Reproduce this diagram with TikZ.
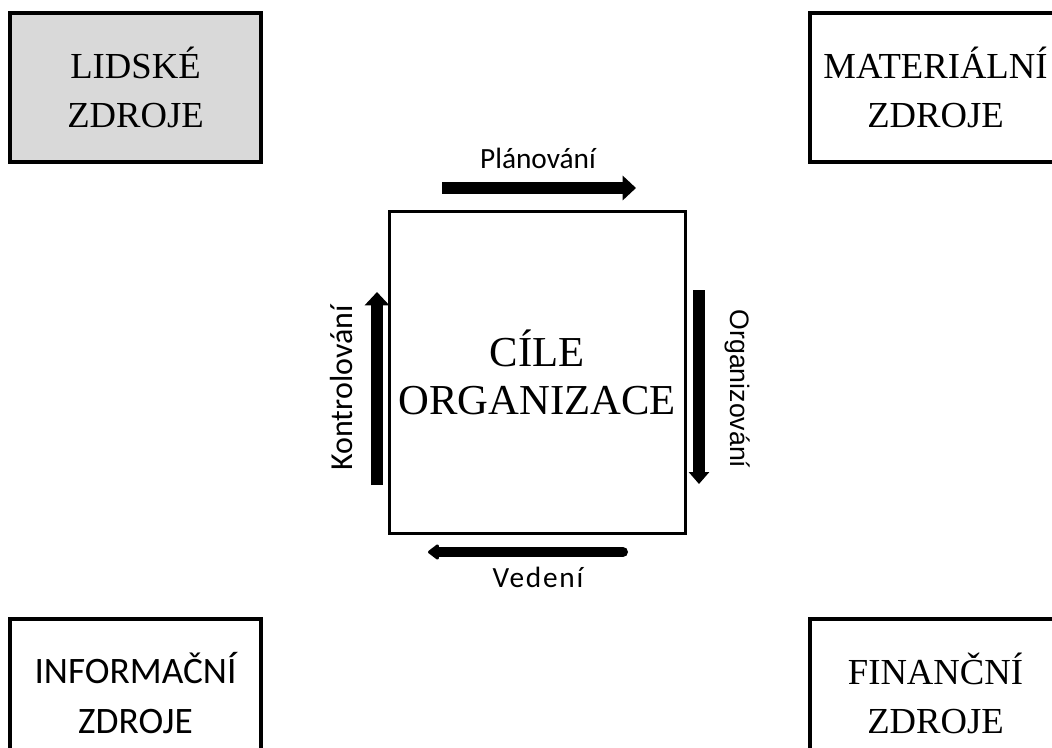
\documentclass[tikz,border=0pt]{standalone}
\usepackage{fontspec}
\setmainfont{Liberation Serif}
\newfontfamily\calibrifont{Carlito}
\newfontfamily\calibriwide[LetterSpace=6]{Carlito}
\newfontfamily\arialfont{Liberation Sans}
\usetikzlibrary{arrows.meta,positioning}

\begin{document}
\begin{tikzpicture}[x=0.75pt, y=-0.75pt,
	zdroj/.style={draw, line width=3pt, minimum width=188pt, minimum height=112pt,
		align=center, inner sep=0pt, font=\fontsize{27.5}{36.75}\selectfont},
	cil/.style={draw, line width=2.25pt, minimum width=222pt, minimum height=241pt,
		align=center, inner sep=0pt, font=\fontsize{32}{36}\selectfont},
	tok/.style={line width=9pt, -{Triangle[length=10pt, width=18pt]}},
	popis/.style={inner sep=0pt, font=\calibrifont\fontsize{22}{26}\selectfont}]
	% page frame
	\useasboundingbox (0,0) rectangle (1052,747);
	\clip (0,0) rectangle (1052,747);
	% resources in the corners
	\node[zdroj, fill=black!15] (lidske) at (135.5,87.5) {LIDSKÉ\\ZDROJE};
	\node[zdroj] (materialni) at (935.5,87.5) {MATERIÁLNÍ\\ZDROJE};
	\node[zdroj, font=\calibrifont\fontsize{28}{37.5}\selectfont] (informacni) at (135.5,693.5) {INFORMAČNÍ\\ZDROJE};
	\node[zdroj] (financni) at (935.5,693.5) {FINANČNÍ\\ZDROJE};
	% goals in the middle
	\node[cil] (cile) at (537,372.5) {CÍLE\\ORGANIZACE};
	% arrow ends
	\coordinate (plan-a) at (442,188);
	\coordinate (plan-b) at (636,188);
	\coordinate (org-a) at (699,290);
	\coordinate (org-b) at (699,484);
	\coordinate (ved-a) at (623,552);
	\coordinate (ved-b) at (428,552);
	\coordinate (kon-a) at (377,485);
	\coordinate (kon-b) at (377,292);
	% management cycle
	\draw[tok] (plan-a) -- (plan-b);
	\draw[tok, -{Triangle[length=9pt, width=15pt]}] (org-a) -- (org-b);
	\draw[tok, line width=7.5pt, line cap=round, -{Triangle[round, length=9pt, width=13pt]}] (ved-a) -- (ved-b);
	\draw[tok] (kon-a) -- (kon-b);
	% labels
	\node[popis, anchor=base] (planovani) at (538,168) {Plánování};
	\node[popis, anchor=base, font=\arialfont\fontsize{20}{24}\selectfont, rotate=-90] (organizovani) at (730,389) {Organizování};
	\node[popis, anchor=base, font=\calibriwide\fontsize{22}{26}\selectfont] (vedeni) at (538,587) {Vedení};
	\node[popis, anchor=base, font=\calibrifont\fontsize{24}{28}\selectfont, rotate=90] (kontrolovani) at (352,388) {Kontrolování};
\end{tikzpicture}
\end{document}
